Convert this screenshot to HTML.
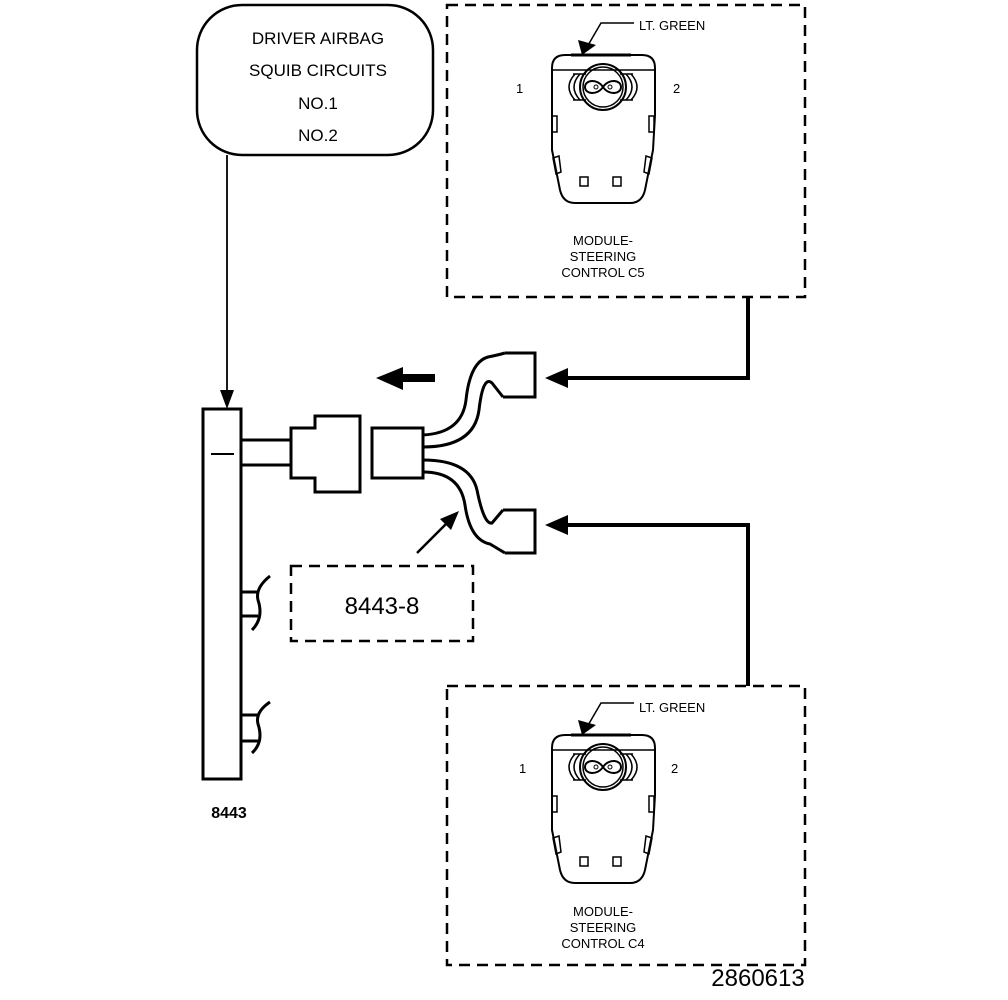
<!DOCTYPE html>
<html><head><style>body{margin:0;background:#fff}svg{display:block}</style></head><body>
<svg width="1008" height="1000" viewBox="0 0 1008 1000" xmlns="http://www.w3.org/2000/svg" font-family="Liberation Sans, Arial, sans-serif">
<defs>
<g id="conn">
<path d="M552,68 Q552,55 565,55 L642,55 Q655,55 655,68 L655,115 L653,150 L645,190 Q642,203 630,203 L575,203 Q563,203 560,190 L552,150 Z" fill="none" stroke="#000" stroke-width="2"/>
<line x1="552" y1="70" x2="655" y2="70" stroke="#000" stroke-width="1.6"/>
<line x1="571" y1="55" x2="631" y2="55" stroke="#000" stroke-width="3"/>
<circle cx="603" cy="87" r="23" fill="none" stroke="#000" stroke-width="2"/>
<circle cx="603" cy="87" r="20" fill="none" stroke="#000" stroke-width="1.5"/>
<path d="M603,87 C597,78 585,80 585,87 C585,94 597,96 603,87 C609,78 621,80 621,87 C621,94 609,96 603,87Z" fill="none" stroke="#000" stroke-width="2"/>
<circle cx="596" cy="87" r="2" fill="none" stroke="#000"/><circle cx="610" cy="87" r="2" fill="none" stroke="#000"/>
<path d="M580,74 Q568,87 580,100 M575,74 Q563,87 575,100 M626,74 Q638,87 626,100 M631,74 Q643,87 631,100" fill="none" stroke="#000" stroke-width="1.5"/>
<path d="M573,74 L586,74 M573,100 L586,100 M620,74 L633,74 M620,100 L633,100" stroke="#000" stroke-width="1.5"/>
<rect x="552" y="116" width="5" height="16" fill="none" stroke="#000" stroke-width="1.5"/>
<rect x="649" y="116" width="5" height="16" fill="none" stroke="#000" stroke-width="1.5"/>
<path d="M553,158 L559,156 L561,172 L556,174Z M652,158 L646,156 L644,172 L649,174Z" fill="none" stroke="#000" stroke-width="1.5"/>
<rect x="580" y="177" width="8" height="9" fill="none" stroke="#000" stroke-width="1.5"/>
<rect x="613" y="177" width="8" height="9" fill="none" stroke="#000" stroke-width="1.5"/>
<path d="M634,23 L601,23 L587,47" fill="none" stroke="#000" stroke-width="1.5"/>
<path d="M582,55 L578,40 L596,45Z" fill="#000"/>
</g>
</defs>
<rect x="197" y="5" width="236" height="150" rx="45" fill="none" stroke="#000" stroke-width="2.5"/>
<g font-size="17" text-anchor="middle" fill="#000">
<text x="318" y="44">DRIVER AIRBAG</text>
<text x="318" y="76">SQUIB CIRCUITS</text>
<text x="318" y="109">NO.1</text>
<text x="318" y="141">NO.2</text>
</g>
<line x1="227" y1="155" x2="227" y2="396" stroke="#000" stroke-width="1.8"/>
<path d="M220,390 L234,390 L227,409Z" fill="#000"/>
<rect x="203" y="409" width="38" height="370" fill="none" stroke="#000" stroke-width="3"/>
<line x1="211" y1="454" x2="234" y2="454" stroke="#000" stroke-width="2"/>
<g stroke="#000" stroke-width="3" fill="none">
<line x1="241" y1="440" x2="291" y2="440"/>
<line x1="241" y1="465" x2="291" y2="465"/>
<line x1="241" y1="592" x2="258" y2="592"/><line x1="241" y1="616" x2="258" y2="616"/>
<path d="M270,576 Q255,588 258,600 Q264,618 252,630"/>
<line x1="241" y1="715" x2="258" y2="715"/><line x1="241" y1="741" x2="258" y2="741"/>
<path d="M270,702 Q255,712 258,724 Q264,742 252,753"/>
<path d="M291,428 L315,428 L315,416 L360,416 L360,492 L315,492 L315,478 L291,478 Z"/>
<rect x="372" y="428" width="51" height="50"/>
<path d="M423,435 Q462,433 466,400 Q470,362 488,357 Q498,355 505,353"/>
<path d="M423,447 Q474,447 479,410 Q483,375 492,383 L503,397"/>
<path d="M505,353 L535,353 L535,397 L503,397"/>
<path d="M423,460 Q470,460 477,490 Q484,525 492,523 L503,510"/>
<path d="M423,472 Q460,472 465,505 Q470,540 490,544 L505,553"/>
<path d="M503,510 L535,510 L535,553 L505,553"/>
</g>
<rect x="400" y="374" width="35" height="8" fill="#000"/>
<path d="M376,378 L403,367 L403,390Z" fill="#000"/>
<line x1="417" y1="553" x2="450" y2="520" stroke="#000" stroke-width="2.5"/>
<path d="M459,511 L440,519 L451,530Z" fill="#000"/>
<rect x="291" y="566" width="182" height="75" fill="none" stroke="#000" stroke-width="2.5" stroke-dasharray="11,7"/>
<text x="382" y="614" font-size="24" text-anchor="middle">8443-8</text>
<text x="229" y="818" font-size="16" font-weight="bold" text-anchor="middle">8443</text>
<path d="M748,297 L748,378 L562,378" fill="none" stroke="#000" stroke-width="4"/>
<path d="M545,378 L568,368 L568,388Z" fill="#000"/>
<path d="M748,686 L748,525 L562,525" fill="none" stroke="#000" stroke-width="4"/>
<path d="M545,525 L568,515 L568,535Z" fill="#000"/>
<rect x="447" y="5" width="358" height="292" fill="none" stroke="#000" stroke-width="2.5" stroke-dasharray="11,7"/>
<rect x="447" y="686" width="358" height="279" fill="none" stroke="#000" stroke-width="2.5" stroke-dasharray="11,7"/>
<use href="#conn"/>
<use href="#conn" transform="translate(0,680)"/>
<g font-size="13" fill="#000">
<text x="639" y="30">LT. GREEN</text>
<text x="516" y="93">1</text><text x="673" y="93">2</text>
<text x="603" y="245" text-anchor="middle">MODULE-</text>
<text x="603" y="261" text-anchor="middle">STEERING</text>
<text x="603" y="277" text-anchor="middle">CONTROL C5</text>
<text x="639" y="712">LT. GREEN</text>
<text x="519" y="773">1</text><text x="671" y="773">2</text>
<text x="603" y="916" text-anchor="middle">MODULE-</text>
<text x="603" y="932" text-anchor="middle">STEERING</text>
<text x="603" y="948" text-anchor="middle">CONTROL C4</text>
</g>
<text x="758" y="986" font-size="24" text-anchor="middle">2860613</text>
</svg>
</body></html>
